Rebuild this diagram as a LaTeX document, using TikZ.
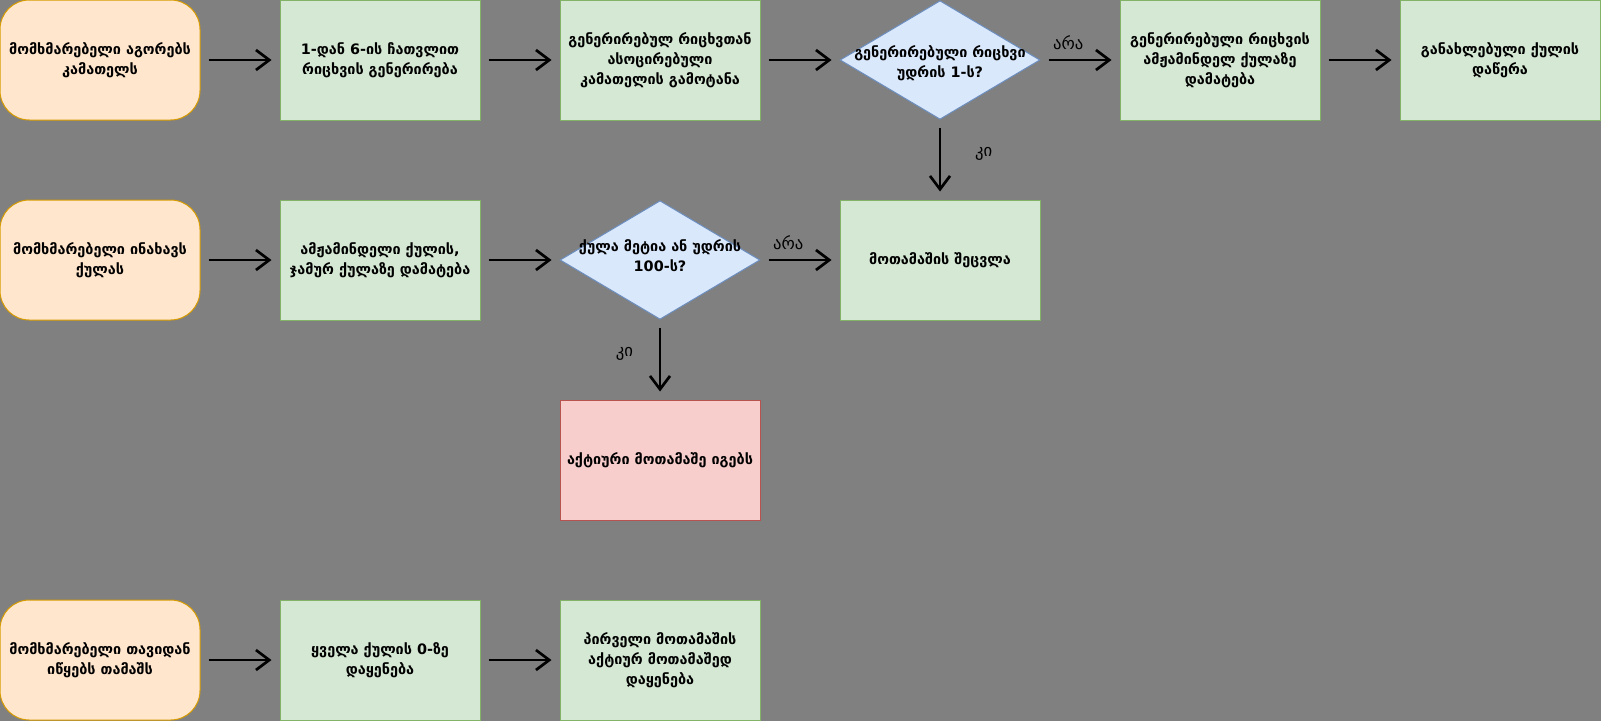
\documentclass[tikz,border=0pt]{standalone}
\usepackage{fontspec}
\setmainfont{DejaVu Sans}
\usetikzlibrary{arrows.meta,shapes.geometric}
\definecolor{userfill}{HTML}{FFE6CC}
\definecolor{userline}{HTML}{D79B00}
\definecolor{procfill}{HTML}{D5E8D4}
\definecolor{procline}{HTML}{82B366}
\definecolor{decfill}{HTML}{DAE8FC}
\definecolor{decline}{HTML}{6C8EBF}
\definecolor{endfill}{HTML}{F8CECC}
\definecolor{endline}{HTML}{B85450}
\definecolor{bggray}{HTML}{808080}

\begin{document}
\begin{tikzpicture}[x=0.75pt,y=-0.75pt,
    font=\fontsize{10.8}{15}\selectfont\bfseries,
    box/.style={minimum width=150pt,minimum height=90pt,align=center,line width=0.75pt,inner sep=2pt},
    user/.style={box,draw=userline,fill=userfill,rounded corners=22pt},
    proc/.style={box,draw=procline,fill=procfill},
    finish/.style={box,draw=endline,fill=endfill},
    dec/.style={diamond,draw=decline,fill=decfill,minimum width=150pt,minimum height=89pt,inner sep=0pt,line width=0.75pt},
    dectext/.style={align=center},
    flow/.style={-{Straight Barb[length=10pt,width=15pt]},line width=2pt,shorten <=6pt,shorten >=6pt},
    answer/.style={font=\fontsize{12.5}{14}\selectfont}]
    \fill[bggray] (0,0) rectangle (1601,721);
    \useasboundingbox (0,0) rectangle (1601,721);

    % row one: rolling the die
    \node[user] (roll) at (100,60) {მომხმარებელი აგორებს\\კამათელს};
    \node[proc] (gen) at (380,60) {1-დან 6-ის ჩათვლით\\რიცხვის გენერირება};
    \node[proc] (show) at (660,60) {გენერირებულ რიცხვთან\\ასოცირებული\\კამათელის გამოტანა};
    \node[dec] (isone) at (940,60) {};
    \node[dectext] (isonetext) at (940,63) {გენერირებული რიცხვი\\უდრის 1-ს?};
    \node[proc] (add) at (1220,60) {გენერირებული რიცხვის\\ამჟამინდელ ქულაზე\\დამატება};
    \node[proc] (write) at (1500,60) {განახლებული ქულის\\დაწერა};

    % row two: holding
    \node[user] (hold) at (100,260) {მომხმარებელი ინახავს\\ქულას};
    \node[proc] (total) at (380,260) {ამჟამინდელი ქულის,\\ჯამურ ქულაზე დამატება};
    \node[dec] (win) at (660,260) {};
    \node[dectext] (wintext) at (660,256) {ქულა მეტია ან უდრის\\100-ს?};
    \node[proc] (swap) at (940,260) {მოთამაშის შეცვლა};
    \node[finish] (wins) at (660,460) {აქტიური მოთამაშე იგებს};

    % row three: restart
    \node[user] (restart) at (100,660) {მომხმარებელი თავიდან\\იწყებს თამაშს};
    \node[proc] (reset) at (380,660) {ყველა ქულის 0-ზე\\დაყენება};
    \node[proc] (first) at (660,660) {პირველი მოთამაშის\\აქტიურ მოთამაშედ\\დაყენება};

    \draw[flow] (roll) -- (gen);
    \draw[flow] (gen) -- (show);
    \draw[flow] (show) -- (isone);
    \draw[flow] (isone) -- node[answer,pos=0.35,above=3pt] {არა} (add);
    \draw[flow] (add) -- (write);
    \draw[flow] (isone) -- node[answer,pos=0.43,right=22pt] {კი} (swap);
    \draw[flow] (hold) -- (total);
    \draw[flow] (total) -- (win);
    \draw[flow] (win) -- node[answer,pos=0.35,above=3pt] {არა} (swap);
    \draw[flow] (win) -- node[answer,pos=0.43,left=16pt] {კი} (wins);
    \draw[flow] (restart) -- (reset);
    \draw[flow] (reset) -- (first);
\end{tikzpicture}
\end{document}
